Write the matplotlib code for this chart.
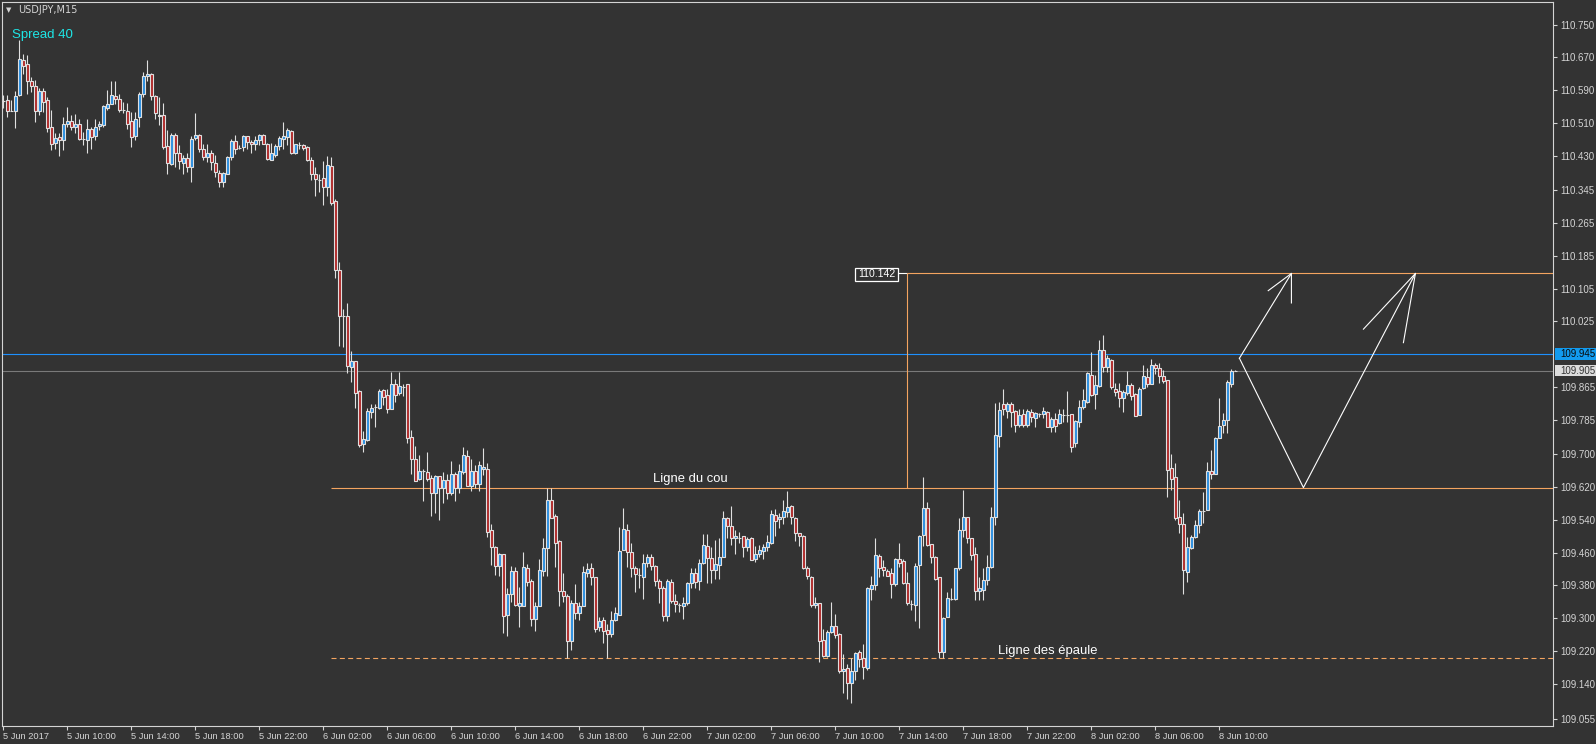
import numpy as np
import matplotlib.pyplot as plt
from matplotlib.patches import Rectangle
import matplotlib.transforms as mtransforms

# ==============================
# DATA (USDJPY M15, one value per bar)
# ==============================

opens = [
    110.563, 110.565, 110.539, 110.539, 110.577, 110.664, 110.653, 110.612, 110.601, 110.539,
    110.587, 110.565, 110.500, 110.461, 110.476, 110.469, 110.508, 110.514, 110.500, 110.508,
    110.471, 110.469, 110.494, 110.477, 110.502, 110.504, 110.547, 110.557, 110.576, 110.569,
    110.541, 110.538, 110.515, 110.477, 110.524, 110.581, 110.624, 110.629, 110.576, 110.530,
    110.528, 110.453, 110.410, 110.480, 110.435, 110.413, 110.424, 110.402, 110.474, 110.479,
    110.445, 110.427, 110.437, 110.413, 110.388, 110.366, 110.386, 110.427, 110.465, 110.449,
    110.451, 110.477, 110.462, 110.457, 110.469, 110.479, 110.459, 110.420, 110.431, 110.454,
    110.471, 110.476, 110.489, 110.435, 110.455, 110.455, 110.452, 110.418, 110.386, 110.371,
    110.375, 110.352, 110.404, 110.318, 110.150, 110.037, 110.037, 109.914, 109.928, 109.854,
    109.725, 109.736, 109.804, 109.816, 109.814, 109.857, 109.845, 109.812, 109.871, 109.849,
    109.865, 109.871, 109.743, 109.688, 109.641, 109.659, 109.656, 109.643, 109.607, 109.647,
    109.617, 109.637, 109.607, 109.653, 109.617, 109.657, 109.696, 109.623, 109.659, 109.627,
    109.664, 109.664, 109.515, 109.475, 109.428, 109.456, 109.309, 109.359, 109.415, 109.330,
    109.331, 109.422, 109.392, 109.297, 109.331, 109.416, 109.472, 109.589, 109.550, 109.488,
    109.366, 109.354, 109.245, 109.336, 109.313, 109.331, 109.411, 109.422, 109.401, 109.278,
    109.296, 109.271, 109.261, 109.296, 109.309, 109.467, 109.515, 109.461, 109.422, 109.405,
    109.401, 109.436, 109.450, 109.428, 109.392, 109.375, 109.305, 109.389, 109.342, 109.332,
    109.331, 109.336, 109.385, 109.410, 109.391, 109.434, 109.476, 109.446, 109.418, 109.430,
    109.450, 109.544, 109.525, 109.495, 109.497, 109.501, 109.473, 109.495, 109.444, 109.458,
    109.465, 109.473, 109.483, 109.552, 109.542, 109.546, 109.559, 109.574, 109.544, 109.507,
    109.501, 109.423, 109.400, 109.332, 109.336, 109.247, 109.208, 109.267, 109.281, 109.261,
    109.170, 109.178, 109.141, 109.171, 109.217, 109.202, 109.178, 109.371, 109.381, 109.452,
    109.424, 109.415, 109.410, 109.383, 109.444, 109.440, 109.387, 109.334, 109.332, 109.430,
    109.503, 109.568, 109.481, 109.449, 109.400, 109.218, 109.304, 109.347, 109.347, 109.422,
    109.515, 109.546, 109.495, 109.456, 109.367, 109.370, 109.393, 109.424, 109.546, 109.745,
    109.823, 109.807, 109.823, 109.806, 109.772, 109.798, 109.772, 109.803, 109.788, 109.798,
    109.798, 109.803, 109.766, 109.786, 109.776, 109.796, 109.796, 109.798, 109.727, 109.780,
    109.815, 109.827, 109.895, 109.847, 109.867, 109.955, 109.914, 109.930, 109.860, 109.855,
    109.838, 109.851, 109.869, 109.847, 109.796, 109.863, 109.888, 109.873, 109.918, 109.910,
    109.892, 109.882, 109.666, 109.644, 109.546, 109.531, 109.413, 109.472, 109.499, 109.527,
    109.562, 109.564, 109.660, 109.652, 109.741, 109.772, 109.785, 109.873, 109.905,
]

highs = [
    110.577, 110.577, 110.565, 110.587, 110.713, 110.679, 110.675, 110.622, 110.614, 110.594,
    110.594, 110.573, 110.541, 110.484, 110.484, 110.523, 110.549, 110.528, 110.531, 110.520,
    110.488, 110.520, 110.500, 110.520, 110.515, 110.553, 110.591, 110.611, 110.612, 110.581,
    110.561, 110.559, 110.537, 110.537, 110.585, 110.634, 110.664, 110.632, 110.577, 110.573,
    110.559, 110.492, 110.484, 110.484, 110.455, 110.431, 110.435, 110.477, 110.534, 110.482,
    110.459, 110.457, 110.443, 110.431, 110.394, 110.390, 110.428, 110.471, 110.480, 110.455,
    110.479, 110.477, 110.467, 110.477, 110.482, 110.482, 110.461, 110.461, 110.459, 110.477,
    110.511, 110.498, 110.492, 110.459, 110.462, 110.458, 110.454, 110.427, 110.402, 110.384,
    110.416, 110.428, 110.427, 110.325, 110.169, 110.056, 110.069, 109.952, 109.928, 109.858,
    109.757, 109.814, 109.824, 109.824, 109.861, 109.861, 109.861, 109.902, 109.885, 109.902,
    109.871, 109.871, 109.759, 109.720, 109.698, 109.664, 109.705, 109.649, 109.651, 109.647,
    109.657, 109.652, 109.683, 109.657, 109.676, 109.718, 109.710, 109.688, 109.674, 109.684,
    109.715, 109.678, 109.530, 109.477, 109.460, 109.458, 109.373, 109.428, 109.426, 109.377,
    109.461, 109.432, 109.397, 109.340, 109.444, 109.495, 109.617, 109.617, 109.554, 109.491,
    109.410, 109.359, 109.344, 109.384, 109.340, 109.427, 109.434, 109.436, 109.401, 109.304,
    109.304, 109.285, 109.318, 109.328, 109.523, 109.568, 109.529, 109.483, 109.427, 109.422,
    109.456, 109.457, 109.457, 109.430, 109.395, 109.379, 109.395, 109.397, 109.359, 109.338,
    109.353, 109.388, 109.422, 109.422, 109.444, 109.505, 109.505, 109.473, 109.491, 109.495,
    109.562, 109.548, 109.574, 109.515, 109.511, 109.501, 109.499, 109.499, 109.476, 109.479,
    109.481, 109.503, 109.564, 109.566, 109.556, 109.589, 109.611, 109.577, 109.548, 109.507,
    109.503, 109.428, 109.402, 109.353, 109.338, 109.273, 109.271, 109.339, 109.310, 109.263,
    109.213, 109.188, 109.202, 109.218, 109.222, 109.236, 109.377, 109.402, 109.497, 109.457,
    109.442, 109.419, 109.422, 109.446, 109.483, 109.444, 109.414, 109.344, 109.436, 109.503,
    109.644, 109.583, 109.481, 109.452, 109.400, 109.304, 109.365, 109.375, 109.422, 109.544,
    109.613, 109.546, 109.495, 109.474, 109.401, 109.422, 109.454, 109.572, 109.825, 109.829,
    109.861, 109.829, 109.829, 109.808, 109.812, 109.812, 109.812, 109.812, 109.804, 109.800,
    109.815, 109.807, 109.792, 109.800, 109.812, 109.812, 109.855, 109.798, 109.784, 109.834,
    109.861, 109.902, 109.951, 109.894, 109.979, 109.991, 109.943, 109.932, 109.875, 109.875,
    109.857, 109.904, 109.875, 109.849, 109.865, 109.918, 109.910, 109.932, 109.924, 109.924,
    109.906, 109.882, 109.701, 109.678, 109.588, 109.556, 109.499, 109.503, 109.540, 109.566,
    109.609, 109.682, 109.711, 109.743, 109.837, 109.800, 109.881, 109.908, 109.906,
]

lows = [
    110.547, 110.524, 110.539, 110.498, 110.576, 110.630, 110.581, 110.584, 110.512, 110.528,
    110.537, 110.488, 110.443, 110.447, 110.428, 110.443, 110.500, 110.492, 110.485, 110.467,
    110.455, 110.435, 110.447, 110.469, 110.492, 110.500, 110.541, 110.555, 110.555, 110.537,
    110.534, 110.496, 110.451, 110.467, 110.500, 110.572, 110.612, 110.565, 110.520, 110.504,
    110.447, 110.386, 110.406, 110.402, 110.398, 110.384, 110.390, 110.366, 110.467, 110.439,
    110.419, 110.414, 110.394, 110.378, 110.352, 110.353, 110.384, 110.419, 110.433, 110.445,
    110.441, 110.447, 110.435, 110.443, 110.455, 110.458, 110.419, 110.419, 110.427, 110.443,
    110.447, 110.455, 110.433, 110.433, 110.445, 110.443, 110.417, 110.371, 110.331, 110.341,
    110.309, 110.331, 110.309, 110.132, 109.965, 109.963, 109.899, 109.877, 109.814, 109.717,
    109.706, 109.733, 109.788, 109.767, 109.810, 109.820, 109.801, 109.812, 109.828, 109.845,
    109.842, 109.728, 109.652, 109.635, 109.637, 109.587, 109.635, 109.550, 109.556, 109.539,
    109.582, 109.592, 109.600, 109.587, 109.606, 109.652, 109.623, 109.611, 109.617, 109.611,
    109.650, 109.499, 109.430, 109.405, 109.404, 109.263, 109.257, 109.340, 109.330, 109.279,
    109.331, 109.379, 109.282, 109.270, 109.331, 109.404, 109.404, 109.545, 109.426, 109.331,
    109.340, 109.202, 109.222, 109.298, 109.296, 109.331, 109.401, 109.381, 109.267, 109.270,
    109.240, 109.202, 109.253, 109.292, 109.309, 109.467, 109.424, 109.401, 109.365, 109.373,
    109.348, 109.426, 109.418, 109.379, 109.336, 109.292, 109.293, 109.338, 109.314, 109.314,
    109.297, 109.332, 109.373, 109.373, 109.369, 109.432, 109.387, 109.387, 109.397, 109.397,
    109.450, 109.495, 109.479, 109.458, 109.483, 109.450, 109.463, 109.441, 109.438, 109.449,
    109.444, 109.463, 109.481, 109.502, 109.520, 109.530, 109.546, 109.530, 109.489, 109.476,
    109.419, 109.397, 109.327, 109.326, 109.192, 109.206, 109.205, 109.263, 109.251, 109.165,
    109.118, 109.102, 109.092, 109.149, 109.182, 109.151, 109.174, 109.344, 109.369, 109.400,
    109.402, 109.402, 109.349, 109.379, 109.426, 109.383, 109.332, 109.320, 109.294, 109.275,
    109.476, 109.476, 109.436, 109.393, 109.202, 109.202, 109.304, 109.345, 109.345, 109.418,
    109.499, 109.483, 109.442, 109.344, 109.344, 109.344, 109.381, 109.422, 109.527, 109.719,
    109.796, 109.788, 109.768, 109.755, 109.768, 109.768, 109.768, 109.780, 109.768, 109.792,
    109.788, 109.766, 109.755, 109.754, 109.774, 109.780, 109.780, 109.706, 109.717, 109.766,
    109.810, 109.825, 109.842, 109.812, 109.865, 109.902, 109.902, 109.861, 109.842, 109.815,
    109.804, 109.845, 109.833, 109.794, 109.796, 109.861, 109.865, 109.872, 109.896, 109.875,
    109.875, 109.597, 109.613, 109.540, 109.507, 109.359, 109.389, 109.468, 109.496, 109.507,
    109.533, 109.564, 109.639, 109.652, 109.741, 109.753, 109.753, 109.865, 109.903,
]

closes = [
    110.563, 110.539, 110.539, 110.576, 110.667, 110.649, 110.612, 110.600, 110.539, 110.587,
    110.561, 110.498, 110.459, 110.474, 110.467, 110.508, 110.514, 110.500, 110.508, 110.471,
    110.471, 110.496, 110.476, 110.500, 110.506, 110.550, 110.555, 110.579, 110.569, 110.541,
    110.541, 110.508, 110.476, 110.520, 110.581, 110.624, 110.629, 110.576, 110.533, 110.527,
    110.451, 110.412, 110.480, 110.435, 110.416, 110.423, 110.402, 110.471, 110.479, 110.445,
    110.427, 110.435, 110.414, 110.390, 110.366, 110.388, 110.427, 110.465, 110.447, 110.449,
    110.477, 110.462, 110.457, 110.467, 110.479, 110.459, 110.422, 110.435, 110.454, 110.474,
    110.477, 110.493, 110.435, 110.457, 110.455, 110.449, 110.419, 110.384, 110.372, 110.371,
    110.353, 110.406, 110.315, 110.150, 110.037, 110.037, 109.917, 109.928, 109.850, 109.724,
    109.737, 109.806, 109.814, 109.816, 109.854, 109.840, 109.812, 109.873, 109.846, 109.867,
    109.865, 109.740, 109.690, 109.635, 109.659, 109.659, 109.641, 109.607, 109.647, 109.617,
    109.637, 109.607, 109.653, 109.617, 109.660, 109.698, 109.623, 109.659, 109.629, 109.674,
    109.670, 109.511, 109.473, 109.428, 109.456, 109.306, 109.359, 109.415, 109.332, 109.338,
    109.426, 109.389, 109.297, 109.330, 109.418, 109.471, 109.589, 109.545, 109.484, 109.367,
    109.354, 109.245, 109.338, 109.313, 109.330, 109.414, 109.419, 109.400, 109.274, 109.294,
    109.270, 109.261, 109.296, 109.312, 109.464, 109.518, 109.461, 109.422, 109.407, 109.405,
    109.436, 109.450, 109.428, 109.392, 109.373, 109.305, 109.392, 109.342, 109.334, 109.332,
    109.338, 109.385, 109.410, 109.389, 109.434, 109.479, 109.446, 109.418, 109.432, 109.449,
    109.544, 109.525, 109.495, 109.501, 109.497, 109.473, 109.494, 109.442, 109.458, 109.467,
    109.473, 109.485, 109.555, 109.538, 109.546, 109.562, 109.571, 109.546, 109.507, 109.501,
    109.423, 109.402, 109.332, 109.336, 109.245, 109.208, 109.267, 109.281, 109.259, 109.170,
    109.175, 109.141, 109.171, 109.214, 109.200, 109.182, 109.373, 109.381, 109.454, 109.422,
    109.418, 109.404, 109.383, 109.444, 109.436, 109.387, 109.336, 109.334, 109.428, 109.502,
    109.568, 109.479, 109.449, 109.397, 109.218, 109.300, 109.349, 109.347, 109.422, 109.515,
    109.548, 109.497, 109.454, 109.367, 109.373, 109.393, 109.424, 109.548, 109.747, 109.808,
    109.810, 109.823, 109.804, 109.772, 109.796, 109.772, 109.806, 109.792, 109.800, 109.798,
    109.806, 109.766, 109.786, 109.770, 109.798, 109.796, 109.796, 109.719, 109.781, 109.815,
    109.833, 109.898, 109.845, 109.869, 109.955, 109.914, 109.936, 109.864, 109.853, 109.838,
    109.853, 109.869, 109.843, 109.794, 109.861, 109.891, 109.873, 109.918, 109.910, 109.892,
    109.880, 109.663, 109.639, 109.544, 109.531, 109.418, 109.473, 109.499, 109.527, 109.562,
    109.562, 109.660, 109.652, 109.739, 109.769, 109.785, 109.877, 109.904, 109.905,
]

# time axis: one label every 16 bars (4 hours)
time_labels = [
    "5 Jun 2017", "5 Jun 10:00", "5 Jun 14:00", "5 Jun 18:00", "5 Jun 22:00",
    "6 Jun 02:00", "6 Jun 06:00", "6 Jun 10:00", "6 Jun 14:00", "6 Jun 18:00",
    "6 Jun 22:00", "7 Jun 02:00", "7 Jun 06:00", "7 Jun 10:00", "7 Jun 14:00",
    "7 Jun 18:00", "7 Jun 22:00", "8 Jun 02:00", "8 Jun 06:00", "8 Jun 10:00",
]
bars_per_label = 16

price_ticks = [110.750, 110.670, 110.590, 110.510, 110.430, 110.345, 110.265, 110.185,
               110.105, 110.025, 109.865, 109.785, 109.700, 109.620, 109.540, 109.460,
               109.380, 109.300, 109.220, 109.140, 109.055]

# drawn objects
ask_level = 109.945
bid_level = 109.905
neck_level = 109.618
shoulder_level = 109.203
target_level = 110.142
lines_start_bar = 82
target_bar = 226

# projected paths (bar, price)
path_up_x = [309, 322]
path_up_y = [109.935, 110.142]
head_up_x = [316.2, 322, 322]
head_up_y = [110.100, 110.142, 110.070]
path_v_x = [309, 325, 353]
path_v_y = [109.935, 109.619, 110.142]
head_v_x = [340, 353, 350]
head_v_y = [110.006, 110.142, 109.973]

# ==============================
# STYLE
# ==============================

BG = "#333333"
FG = "#d4d4d4"
WICK = "#e0e0e0"
BULL = "#2a8ee0"
BEAR = "#b02a2a"
ORANGE = "#f4a460"
ASK = "#1e90ff"
BID = "#7a7a7a"
LBL_FONT = ["Liberation Sans", "DejaVu Sans"]
LBL_SIZE = 7.0

W, H = 1596, 744
fig = plt.figure(figsize=(W / 100, H / 100), dpi=100, facecolor=BG)
ax = fig.add_axes([2 / W, 18.5 / H, 1551 / W, 723.5 / H])
ax.set_facecolor(BG)
x_max = 387.4
ax.set_xlim(-0.375, x_max)
ax.set_ylim(109.038, 110.805)

for s in ax.spines.values():
    s.set_color(FG)
    s.set_linewidth(0.8)

# ==============================
# CANDLES
# ==============================

o = np.array(opens)
c = np.array(closes)
hi = np.array(highs)
lo = np.array(lows)
x = np.arange(len(c))
up = c >= o

ax.vlines(x, lo, hi, color=WICK, lw=0.8, zorder=3)
ax.bar(x, np.abs(c - o), bottom=np.minimum(o, c), width=0.58,
       color=np.where(up, BULL, BEAR), edgecolor=WICK, linewidth=0.8, zorder=4)

# ==============================
# LEVELS AND ANNOTATIONS
# ==============================

ax.axhline(ask_level, color=ASK, lw=0.8, zorder=2)
ax.axhline(bid_level, color=BID, lw=0.8, zorder=2)
ax.hlines(neck_level, lines_start_bar, x_max, color=ORANGE, lw=0.8, zorder=2)
ax.hlines(shoulder_level, lines_start_bar, x_max, color=ORANGE, lw=0.8,
          linestyles=(0, (4.5, 3)), zorder=2)

box_left, box_right = 212.9, 223.6
ax.hlines(target_level, target_bar, x_max, color=ORANGE, lw=0.8, zorder=2)
ax.hlines(target_level, box_right, target_bar, color="white", lw=0.8, zorder=2)
ax.vlines(target_bar, neck_level, target_level, color=ORANGE, lw=0.8, zorder=2)
ax.add_patch(Rectangle((box_left, 110.124), box_right - box_left, 0.032,
                       facecolor=BG, edgecolor="white", lw=0.9, zorder=5))
ax.text((box_left + box_right) / 2, 110.140, f"{target_level:.3f}", color="white",
        ha="center", va="center", fontsize=7.6, family=LBL_FONT, zorder=6)

ax.text(162.4, neck_level + 0.0135, "Ligne du cou", color="white", fontsize=9.4,
        family=LBL_FONT, va="baseline")
ax.text(248.6, shoulder_level + 0.010, "Ligne des épaule", color="white", fontsize=9.4,
        family=LBL_FONT, va="baseline")

ax.plot(path_up_x, path_up_y, color="white", lw=0.8, zorder=5)
ax.plot(head_up_x, head_up_y, color="white", lw=0.8, zorder=5)
ax.plot(path_v_x, path_v_y, color="white", lw=0.8, zorder=5)
ax.plot(head_v_x, head_v_y, color="white", lw=0.8, zorder=5)

# ==============================
# AXES
# ==============================

ax.yaxis.tick_right()
ax.set_yticks(price_ticks)
ax.set_yticklabels([f"{v:.3f}" for v in price_ticks])
ax.tick_params(axis="y", length=3, width=0.8, colors=FG, pad=2, labelsize=LBL_SIZE)

ax.set_xticks(np.arange(len(time_labels)) * bars_per_label)
ax.set_xticklabels(time_labels)
ax.tick_params(axis="x", length=3, width=0.8, colors=FG, pad=2, labelsize=6.7)
for lbl in ax.get_xticklabels() + ax.get_yticklabels():
    lbl.set_family(LBL_FONT)
for lbl in ax.get_xticklabels():
    lbl.set_ha("left")

# price boxes on the right scale
trans = mtransforms.blended_transform_factory(ax.transAxes, ax.transData)
for level, face, txt in [(ask_level, "#129bef", "#0a0a0a"), (bid_level, "#dcdcdc", "#333333")]:
    ax.add_patch(Rectangle((1.0013, level - 0.0145), 0.0265, 0.029, transform=trans,
                           facecolor=face, edgecolor="none", clip_on=False, zorder=6))
    ax.text(1.0045, level, f"{level:.3f}", transform=trans, color=txt, fontsize=LBL_SIZE,
            family=LBL_FONT, va="center", ha="left", clip_on=False, zorder=7)

# header texts
fig.text(6 / W, 1 - 10 / H, "▼", color=FG, fontsize=5, va="center", ha="left")
fig.text(18 / W, 1 - 10 / H, "USDJPY,M15", color=FG, fontsize=7, va="center", ha="left")
fig.text(12 / W, 1 - 35 / H, "Spread 40", color="#1ee6e6", fontsize=9.5,
         family=LBL_FONT, va="center", ha="left")

fig.savefig("out.png", dpi=100, facecolor=BG)
